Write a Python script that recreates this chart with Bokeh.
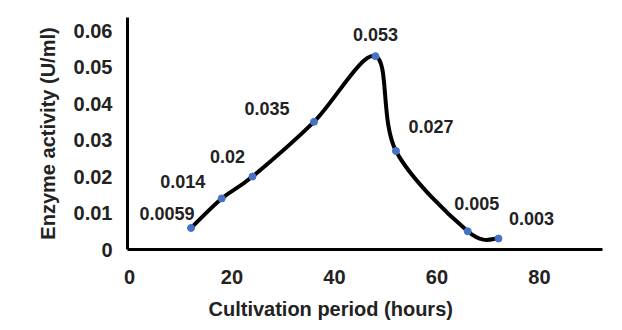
import numpy as np
from bokeh.plotting import figure
from bokeh.models import ColumnDataSource, FixedTicker, Range1d, Title
from bokeh.core.properties import value
from bokeh.embed import file_html
from bokeh.resources import INLINE

# Data
hours = [12, 18, 24, 36, 48, 52, 66, 72]
activity = [0.0059, 0.014, 0.02, 0.035, 0.053, 0.027, 0.005, 0.003]
point_labels = ["0.0059", "0.014", "0.02", "0.035", "0.053", "0.027", "0.005", "0.003"]
x_ticks = [0, 20, 40, 60, 80]
y_ticks = [0, 0.01, 0.02, 0.03, 0.04, 0.05, 0.06]
y_tick_labels = ["0", "0.01", "0.02", "0.03", "0.04", "0.05", "0.06"]
x_title = "Cultivation period (hours)"
y_title = "Enzyme activity (U/ml)"

# Label offsets (screen pixels, style only)
label_dx = [-24, -39, -25, -47, 0, 35, 9, 33]
label_dy = [-14, -17, -20, -13, -22, -25, -28, -20]

FONT = "Liberation Sans"
TXT = "#222222"

p = figure(width=622, height=330, output_backend="svg", toolbar_location=None,
           x_range=Range1d(-0.39, 92.3), y_range=Range1d(0, 0.0636),
           min_border_left=127, min_border_right=20, min_border_top=17, min_border_bottom=81)
p.outline_line_color = None
p.grid.visible = False
p.background_fill_color = "white"
p.border_fill_color = "white"

# Smoothed line (Catmull-Rom style Bezier segments, as Excel smoothing)
px = np.array(hours, dtype=float)
py = np.array(activity, dtype=float)
n = len(px)
x0s, y0s, x1s, y1s, cx0s, cy0s, cx1s, cy1s = [], [], [], [], [], [], [], []
for i in range(n - 1):
    i0 = max(i - 1, 0)
    i3 = min(i + 2, n - 1)
    x0s.append(px[i]); y0s.append(py[i])
    x1s.append(px[i + 1]); y1s.append(py[i + 1])
    cx0s.append(px[i] + (px[i + 1] - px[i0]) / 6.0)
    cy0s.append(py[i] + (py[i + 1] - py[i0]) / 6.0)
    cx1s.append(px[i + 1] - (px[i3] - px[i]) / 6.0)
    cy1s.append(py[i + 1] - (py[i3] - py[i]) / 6.0)
bz = ColumnDataSource(dict(x0=x0s, y0=y0s, x1=x1s, y1=y1s, cx0=cx0s, cy0=cy0s, cx1=cx1s, cy1=cy1s))
p.bezier(x0="x0", y0="y0", x1="x1", y1="y1", cx0="cx0", cy0="cy0", cx1="cx1", cy1="cy1",
         source=bz, line_color="black", line_width=4)

src = ColumnDataSource(dict(x=hours, y=activity, lab=point_labels, dx=label_dx, dy=label_dy))
p.scatter("x", "y", source=src, size=7, fill_color="#4472C4", line_color="#4472C4")
p.text("x", "y", text="lab", source=src, x_offset="dx", y_offset="dy",
       text_font=value(FONT), text_font_style="bold", text_font_size="18px",
       text_color=TXT, text_align="center", text_baseline="middle")

for ax in (p.xaxis[0], p.yaxis[0]):
    ax.axis_line_color = "black"
    ax.axis_line_width = 3
    ax.major_tick_line_color = None
    ax.minor_tick_line_color = None
    ax.major_tick_in = 0
    ax.major_tick_out = 0
    ax.major_label_text_font = FONT
    ax.major_label_text_font_style = "bold"
    ax.major_label_text_font_size = "20px"
    ax.major_label_text_color = TXT

p.xaxis.ticker = FixedTicker(ticks=x_ticks)
p.yaxis.ticker = FixedTicker(ticks=y_ticks)
p.yaxis.major_label_overrides = {t: s for t, s in zip(y_ticks, y_tick_labels)}
p.xaxis.major_label_standoff = 20
p.yaxis.major_label_standoff = 15

p.yaxis.axis_label = y_title
p.yaxis.axis_label_text_font = FONT
p.yaxis.axis_label_text_font_style = "bold"
p.yaxis.axis_label_text_font_size = "20px"
p.yaxis.axis_label_text_color = TXT
p.yaxis.axis_label_standoff = 12

p.add_layout(Title(text=x_title, align="left", offset=81, text_font=FONT,
                   text_font_style="bold", text_font_size="20px", text_color=TXT,
                   standoff=19), "below")

open("out.html", "w").write(file_html(p, INLINE))
